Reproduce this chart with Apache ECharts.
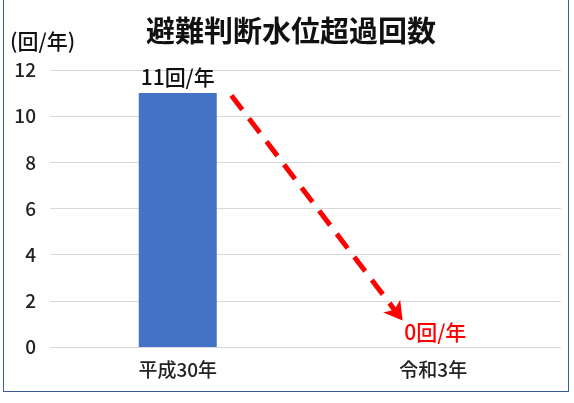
<!DOCTYPE html>
<html><head><meta charset="utf-8">
<script src="https://cdn.jsdelivr.net/npm/echarts@6/dist/echarts.min.js"></script>
<style>
html,body{margin:0;padding:0;background:#fff;}
#frame{position:absolute;left:3px;top:0px;width:564px;height:391px;border:1.5px solid #3B5B9C;border-top:none;}
#c{position:absolute;left:0;top:0;width:574px;height:403px;}
</style></head>
<body><div id="frame"></div><div id="c"></div>
<script>
const title = '避難判断水位超過回数';
const unitName = '(回/年)';
const categories = ['平成30年', '令和3年'];
const values = [11, 0];
const valueLabels = ['11回/年', '0回/年'];
const labelColors = ['#111111', '#FF0000'];
const arrowFrom = [0.71, 10.9];
const arrowTo = [1.38, 1.15];
const yTicks = [0, 2, 4, 6, 8, 10, 12];

const chart = echarts.init(document.getElementById('c'));
const font = '"Noto Sans CJK JP", "Noto Sans", sans-serif';
chart.setOption({
  backgroundColor: 'transparent',
  animation: false,
  textStyle: {fontFamily: font},
  title: {text: title, left: 286, top: 11, textAlign: 'center',
    textStyle: {fontSize: 29, fontWeight: 'bold', color: '#111', fontFamily: font}},
  grid: {left: 50, right: 13, top: 70, bottom: 56},
  xAxis: [
    {type: 'category', data: categories, axisLine: {show: false}, axisTick: {show: false},
     axisLabel: {fontSize: 19, fontWeight: 500, color: '#222', margin: 13, fontFamily: font}},
    {type: 'value', min: 0, max: 2, show: false}
  ],
  yAxis: {type: 'value', min: yTicks[0], max: yTicks[yTicks.length-1], interval: 2,
    name: unitName, nameLocation: 'end', nameGap: 18,
    nameTextStyle: {fontSize: 21, fontWeight: 500, color: '#111', align: 'left', padding: [0, 0, 0, -40], fontFamily: font},
    axisLine: {show: false}, axisTick: {show: false},
    axisLabel: {fontSize: 19, fontWeight: 500, color: '#222', margin: 14, fontFamily: font},
    splitLine: {lineStyle: {color: '#D9D9D9', width: 1}}},
  series: [
    {type: 'bar', xAxisIndex: 0, barWidth: 78,
     data: values.map((v, i) => ({value: v,
       label: {show: true, position: 'top', distance: i === 0 ? 6 : 4, offset: i === 0 ? [0, 0] : [2, 0],
               formatter: valueLabels[i], fontWeight: 500,
               color: labelColors[i], fontSize: 21, fontFamily: font}})),
     itemStyle: {color: '#4472C4'}},
    {type: 'line', xAxisIndex: 1, data: [], silent: true,
     markLine: {silent: true, symbol: ['none', 'arrow'], symbolSize: [16, 18],
       label: {show: false},
       lineStyle: {color: '#FF0000', width: 5, type: [18, 11]},
       data: [[{coord: arrowFrom}, {coord: arrowTo}]]}}
  ]
});
</script></body></html>
